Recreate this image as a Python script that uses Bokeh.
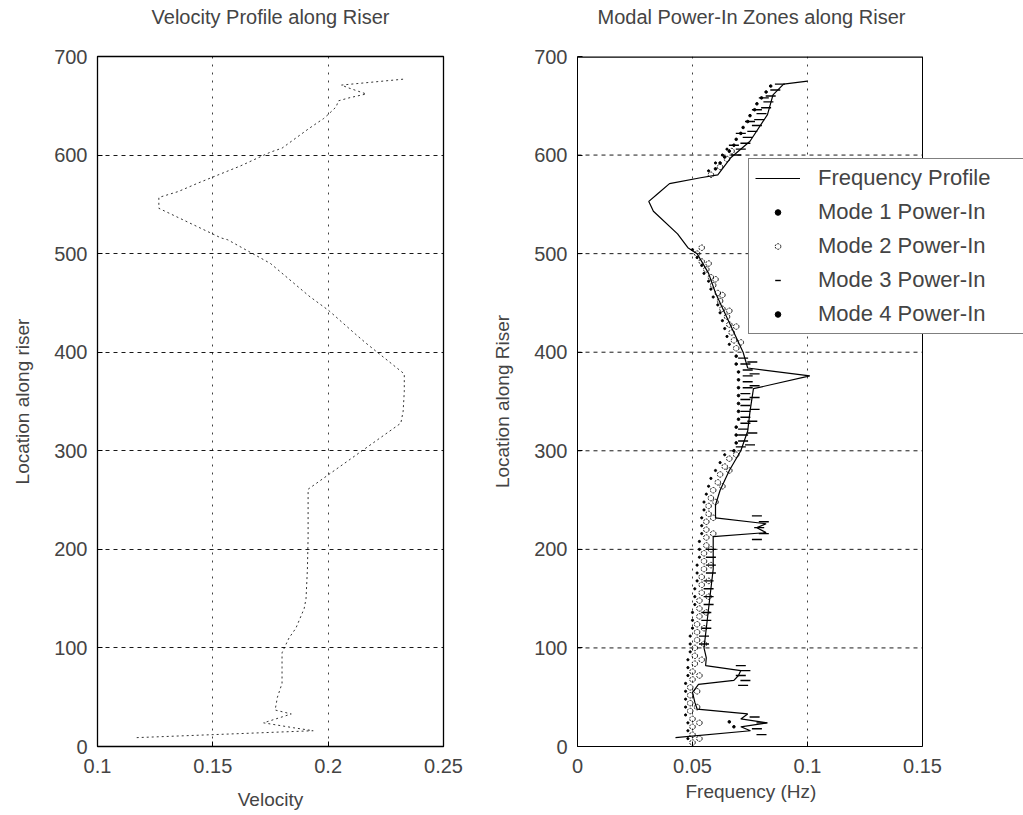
from bokeh.plotting import figure
from bokeh.layouts import row
from bokeh.models import Legend, LegendItem, FixedTicker, Range1d, Title
from bokeh.embed import file_html
from bokeh.resources import INLINE

FONT = "Liberation Sans"

# ---- velocity profile along the riser ----
vel_loc = [9, 16, 19, 24, 33, 37, 50, 64, 80, 95, 110, 120, 140, 150, 180, 212, 240, 261,
           328, 340, 360, 378, 409, 418, 442, 457, 490, 514, 516, 546, 557, 563, 572, 581,
           589, 603, 607, 627, 637, 642, 649, 655, 658, 662, 668, 671, 677]
vel = [0.117, 0.1935, 0.185, 0.172, 0.184, 0.177, 0.178, 0.180, 0.180, 0.180, 0.183, 0.186,
       0.1896, 0.1904, 0.191, 0.1913, 0.1913, 0.1913,
       0.2315, 0.2325, 0.233, 0.233, 0.2165, 0.212, 0.2004, 0.1917, 0.175, 0.1565, 0.1535,
       0.1266, 0.1266, 0.135, 0.144, 0.1535, 0.162, 0.175, 0.180, 0.1917, 0.198, 0.2004,
       0.2035, 0.2044, 0.209, 0.2165, 0.209, 0.2057, 0.2326]

# ---- shedding frequency profile ----
freq_loc = [9, 16, 20, 24, 28, 33, 38, 45, 55, 63, 67, 72, 77, 82, 90, 100, 120, 140, 160,
            180, 200, 213, 217, 222, 226, 232, 245, 260, 280, 300, 320, 340, 363, 376, 384,
            400, 420, 440, 460, 480, 500, 506, 520, 543, 553, 561, 571, 577, 580, 597, 614,
            641, 661, 672, 675]
freq = [0.0426, 0.0752, 0.071, 0.0826, 0.071, 0.074, 0.052, 0.051, 0.050, 0.0526, 0.068,
        0.070, 0.071, 0.0557, 0.056, 0.055, 0.056, 0.057, 0.058, 0.059, 0.059, 0.059, 0.082,
        0.078, 0.082, 0.060, 0.060, 0.062, 0.066, 0.071, 0.074, 0.075, 0.0765, 0.101, 0.074,
        0.072, 0.068, 0.064, 0.060, 0.057, 0.052, 0.048, 0.0435, 0.033, 0.031, 0.035, 0.040,
        0.0535, 0.061, 0.0665, 0.075, 0.0826, 0.085, 0.0896, 0.100]

# ---- modal power-in zones ----
mode1_loc = [8, 16, 24, 32, 40, 48, 56, 64, 72, 80, 88, 96, 104, 112, 120, 128, 136, 144,
             152, 160, 168, 176, 184, 192, 200, 208, 216, 224, 232, 240, 248, 256, 264, 272,
             280, 288, 296, 408, 416, 424, 432, 440, 448, 456, 464, 472, 480, 488, 496, 504,
             584, 592, 600, 606]
mode1_f = [0.048, 0.048, 0.048, 0.047, 0.047, 0.047, 0.047, 0.047, 0.048, 0.048, 0.048,
           0.049, 0.049, 0.049, 0.050, 0.050, 0.050, 0.051, 0.051, 0.051, 0.052, 0.052,
           0.052, 0.053, 0.053, 0.053, 0.054, 0.054, 0.054, 0.055, 0.055, 0.056, 0.057,
           0.058, 0.060, 0.062, 0.064, 0.066, 0.065, 0.064, 0.063, 0.062, 0.061, 0.059,
           0.058, 0.057, 0.055, 0.054, 0.052, 0.050, 0.057, 0.060, 0.063, 0.065]

mode2_loc = [4, 12, 20, 28, 36, 44, 52, 60, 68, 76, 84, 92, 100, 108, 116, 124, 132, 140,
             148, 156, 164, 172, 180, 188, 196, 204, 212, 220, 228, 236, 244, 252, 260, 268,
             276, 284, 292, 404, 412, 420, 428, 436, 444, 452, 460, 468, 476, 484, 492, 500,
             580, 588, 596, 604,
             8, 24, 40, 56, 72, 88, 104, 120, 136, 152, 168, 184, 200, 216, 232, 248, 264,
             280, 296, 410, 426, 442, 458, 474, 490, 506]
mode2_f = [0.050, 0.050, 0.050, 0.050, 0.049, 0.049, 0.049, 0.049, 0.050, 0.050, 0.051,
           0.051, 0.051, 0.052, 0.052, 0.052, 0.053, 0.053, 0.053, 0.054, 0.054, 0.054,
           0.055, 0.055, 0.055, 0.056, 0.056, 0.056, 0.056, 0.057, 0.057, 0.058, 0.059,
           0.061, 0.062, 0.064, 0.066, 0.069, 0.068, 0.067, 0.066, 0.065, 0.063, 0.062,
           0.061, 0.059, 0.058, 0.056, 0.054, 0.052, 0.058, 0.062, 0.065, 0.067,
           0.053, 0.053, 0.052, 0.052, 0.053, 0.054, 0.055, 0.055, 0.056, 0.057, 0.057,
           0.058, 0.058, 0.059, 0.059, 0.060, 0.063, 0.066, 0.069, 0.071, 0.069, 0.066,
           0.063, 0.060, 0.057, 0.054]

mode3_loc = [12, 18, 24, 30, 62, 67, 72, 77, 82, 104, 112, 120, 128, 136, 144, 152, 160,
             168, 176, 184, 192, 200, 210, 216, 222, 228, 234, 304, 310, 316, 322, 328,
             334, 340, 346, 352, 358, 364, 370, 376, 382, 388, 394, 306, 318, 330, 342,
             354, 366, 378, 390, 600, 606, 612, 618, 624, 630, 636, 642, 648, 654, 660,
             666, 672, 610, 622, 634, 646, 658]
mode3_f = [0.080, 0.078, 0.080, 0.077, 0.072, 0.073, 0.071, 0.073, 0.071, 0.055, 0.055,
           0.056, 0.056, 0.056, 0.057, 0.057, 0.057, 0.057, 0.058, 0.058, 0.058, 0.058,
           0.078, 0.081, 0.079, 0.081, 0.078, 0.071, 0.072, 0.072, 0.072, 0.073, 0.073,
           0.073, 0.073, 0.073, 0.073, 0.074, 0.074, 0.074, 0.074, 0.073, 0.072, 0.075,
           0.076, 0.076, 0.077, 0.077, 0.077, 0.077, 0.076, 0.069, 0.071, 0.073, 0.074,
           0.076, 0.078, 0.079, 0.080, 0.082, 0.083, 0.084, 0.086, 0.088, 0.068, 0.071,
           0.075, 0.078, 0.081]

mode4_loc = [20, 25, 300, 308, 316, 324, 332, 340, 348, 356, 364, 372, 380, 388, 396, 586,
             592, 598, 604, 610, 616, 622, 628, 634, 640, 646, 652, 658, 664, 670]
mode4_f = [0.068, 0.066, 0.068, 0.069, 0.069, 0.069, 0.070, 0.070, 0.070, 0.070, 0.070,
           0.070, 0.070, 0.069, 0.069, 0.060, 0.062, 0.064, 0.066, 0.068, 0.069, 0.071,
           0.072, 0.074, 0.075, 0.077, 0.078, 0.080, 0.082, 0.084]

vel_ticks = [0.1, 0.15, 0.2, 0.25]
vel_tick_labels = ["0.1", "0.15", "0.2", "0.25"]
freq_ticks = [0, 0.05, 0.1, 0.15]
freq_tick_labels = ["0", "0.05", "0.1", "0.15"]
loc_ticks = [0, 100, 200, 300, 400, 500, 600, 700]
FREQ_MAX = 0.15


def style(p, xticks, xlabels, xlabel, ylabel):
    # a trailing blank line lifts the title to the top of the 55px border
    p.title.text = p.title.text + "\n"
    p.title.text_font = FONT
    p.title.text_font_size = "20px"
    p.title.text_font_style = "normal"
    p.title.vertical_align = "top"
    p.title.standoff = 10
    p.background_fill_color = "white"
    p.border_fill_color = "white"
    p.xaxis.ticker = FixedTicker(ticks=xticks)
    p.xaxis.major_label_overrides = {t: s for t, s in zip(xticks, xlabels)}
    p.yaxis.ticker = FixedTicker(ticks=loc_ticks)
    p.xgrid.ticker = FixedTicker(ticks=xticks)
    p.ygrid.ticker = FixedTicker(ticks=loc_ticks)
    for ax in (p.xaxis, p.yaxis):
        ax.axis_line_color = "black"
        ax.major_tick_line_color = "black"
        ax.major_tick_in = 5
        ax.major_tick_out = 0
        ax.minor_tick_line_color = None
        ax.major_label_text_font = FONT
        ax.major_label_text_font_size = "20px"
        ax.axis_label_text_font = FONT
        ax.axis_label_text_font_size = "19px"
        ax.axis_label_text_font_style = "normal"
    if xlabel:
        p.xaxis.axis_label = xlabel
    p.yaxis.axis_label = ylabel
    p.xaxis.major_label_standoff = 12
    p.xaxis.axis_label_standoff = 13
    p.yaxis.major_label_standoff = 10
    p.yaxis.axis_label_standoff = 18
    p.xgrid.grid_line_color = "black"
    p.xgrid.grid_line_dash = "2 6"
    p.xgrid.grid_line_alpha = 0.75
    p.ygrid.grid_line_color = "black"
    p.ygrid.grid_line_dash = "4 4"
    p.ygrid.grid_line_alpha = 0.9


# left panel: velocity
p1 = figure(width=489, height=815, x_range=Range1d(0.1, 0.25), y_range=Range1d(0, 700),
            output_backend="svg", toolbar_location=None,
            title="Velocity Profile along Riser",
            min_border_left=97, min_border_right=46, min_border_top=55, min_border_bottom=69)
style(p1, vel_ticks, vel_tick_labels, "Velocity", "Location along riser")
p1.title.align = "center"
p1.outline_line_color = "black"
p1.outline_line_width = 1.3
p1.line(vel, vel_loc, line_color="black", line_width=1, line_dash="2 3", line_alpha=0.8)

# right panel: frequency; the frame runs on past 0.15 so the legend can overhang the box
p2 = figure(width=534, height=815, x_range=Range1d(0, 0.19391), y_range=Range1d(0, 700),
            output_backend="svg", toolbar_location=None,
            title="Modal Power-In Zones along Riser",
            min_border_left=88, min_border_right=0, min_border_top=55, min_border_bottom=69)
style(p2, freq_ticks, freq_tick_labels, None, "Location along Riser")
p2.title.align = "left"
p2.title.offset = 20
p2.outline_line_color = None
p2.xaxis.bounds = (0, FREQ_MAX)
# x label centred under the 0..0.15 axis rather than under the wider frame
xlab = Title(text="Frequency (Hz)", align="left", offset=108, vertical_align="top",
             standoff=10, text_font=FONT, text_font_size="19px", text_font_style="normal")
p2.add_layout(xlab, "below")
p2.xgrid.ticker = FixedTicker(ticks=[0.05, 0.1])
p2.ygrid.grid_line_color = None
grid_y = loc_ticks[1:-1]
p2.segment(x0=[0] * len(grid_y), y0=grid_y, x1=[FREQ_MAX] * len(grid_y), y1=grid_y,
           line_color="black", line_dash="4 4", line_alpha=0.9, line_width=1)
# box: top edge and right edge at the end of the frequency axis
p2.segment(x0=[0, FREQ_MAX], y0=[700, 0], x1=[FREQ_MAX, FREQ_MAX], y1=[700, 700],
           line_color="black", line_width=[2.6, 1])

r_freq = p2.line(freq, freq_loc, line_color="black", line_width=1.2)
r_m1 = p2.scatter(mode1_f, mode1_loc, marker="circle", size=2.2, color="black")
r_m2 = p2.scatter(mode2_f, mode2_loc, marker="circle", size=5.5, fill_color=None,
                  line_color="black", line_width=0.9, line_dash="2 1")
r_m3 = p2.scatter(mode3_f, mode3_loc, marker="dash", size=10, line_color="black",
                  line_width=1.4)
r_m4 = p2.scatter(mode4_f, mode4_loc, marker="circle", size=2.6, color="black")

legend = Legend(items=[
    LegendItem(label="Frequency Profile", renderers=[r_freq]),
    LegendItem(label="Mode 1 Power-In", renderers=[r_m1]),
    LegendItem(label="Mode 2 Power-In", renderers=[r_m2]),
    LegendItem(label="Mode 3 Power-In", renderers=[r_m3]),
    LegendItem(label="Mode 4 Power-In", renderers=[r_m4]),
], location=(171, 412))
legend.border_line_color = "black"
legend.border_line_width = 1
legend.background_fill_color = "white"
legend.background_fill_alpha = 1
legend.label_text_font = FONT
legend.label_text_font_size = "22px"
legend.glyph_width = 45
legend.glyph_height = 14
legend.label_height = 24
legend.label_width = 240
legend.label_standoff = 18
legend.spacing = 8
legend.padding = 6
legend.margin = 0
p2.add_layout(legend, "center")

layout = row(p1, p2)
open("out.html", "w").write(file_html(layout, INLINE))
